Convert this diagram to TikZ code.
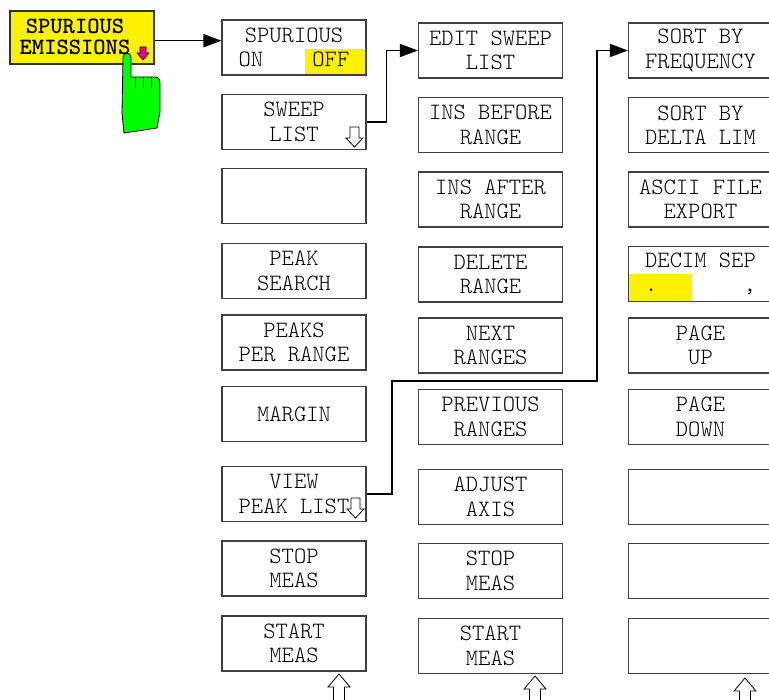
\documentclass[tikz,border=0pt]{standalone}
\usepackage{fontspec}
\usepackage{tikz}
\usetikzlibrary{arrows.meta}

\begin{document}
\begin{tikzpicture}[x=1bp,y=-1bp,
		key/.style={draw=black!75, line width=1.1bp, minimum width=144bp, minimum height=55bp, inner sep=0pt, align=center, font=\ttfamily\fontseries{l}\fontsize{23.5}{24.5}\selectfont},
		conn/.style={line width=1.6bp, black},
		>={Triangle[length=18bp,width=13bp]},
		hollow/.style={draw=black, fill=white, line width=0.8bp}]
			\useasboundingbox (0,0) rectangle (769,700);
			\clip (0,0) rectangle (769,700);
			\fill[yellow] (305,49) rectangle (366,76);
			\fill[yellow] (629,274) rectangle (692,302);
			\node[key, fill=yellow, draw=black!80, minimum height=53bp] (spur) at (82,37.5) {};
			\node[font=\ttfamily\bfseries\fontsize{23.5}{21.5}\selectfont, align=center, inner sep=0pt] (spurtext) at (75,36.75) {SPURIOUS\\EMISSIONS};
			\node[key] (onoff) at (294,47.5) {SPURIOUS\\ON\ \ \ \ OFF};
			\node[key] (sweep) at (294,122) {SWEEP\\LIST};
			\node[key] (blanka) at (294,196) {};
			\node[key] (peaksearch) at (294,271) {PEAK\\SEARCH};
			\node[key] (peaksper) at (294,342.5) {PEAKS\\PER RANGE};
			\node[key] (margin) at (294,414) {MARGIN};
			\node[key] (view) at (294,494) {VIEW\\PEAK LIST};
			\node[key] (stopa) at (294,568.5) {STOP\\MEAS};
			\node[key] (starta) at (294,643.5) {START\\MEAS};
			\node[key] (edit) at (490.5,50.5) {EDIT SWEEP\\LIST};
			\node[key] (insbefore) at (490.5,125) {INS BEFORE\\RANGE};
			\node[key] (insafter) at (490.5,199.5) {INS AFTER\\RANGE};
			\node[key] (delete) at (490.5,274.5) {DELETE\\RANGE};
			\node[key] (next) at (490.5,345.5) {NEXT\\RANGES};
			\node[key] (previous) at (490.5,417) {PREVIOUS\\RANGES};
			\node[key] (adjust) at (490.5,497) {ADJUST\\AXIS};
			\node[key] (stopb) at (490.5,571) {STOP\\MEAS};
			\node[key] (startb) at (490.5,646) {START\\MEAS};
			\node[key] (freq) at (700.5,50.5) {SORT BY\\FREQUENCY};
			\node[key] (delta) at (700.5,125) {SORT BY\\DELTA LIM};
			\node[key] (ascii) at (700.5,199.5) {ASCII FILE\\EXPORT};
			\node[key] (decim) at (700.5,274) {DECIM SEP\\.\ \ \ \ \ \ \ ,\vphantom{D}};
			\node[key] (pageup) at (700.5,345.5) {PAGE\\UP};
			\node[key] (pagedown) at (700.5,417) {PAGE\\DOWN};
			\node[key] (blankb) at (700.5,497) {};
			\node[key] (blankc) at (700.5,571) {};
			\node[key] (blankd) at (700.5,646) {};
			\coordinate (spurout) at ([yshift=-3.2bp]spur.east);
			\draw[conn,->] (spurout) -- (spurout -| onoff.west);
			\draw[conn,->] (sweep.east) -- ++(20,0) |- (edit.west);
			\draw[conn,->] (view.east) -| (392,381) -| ([xshift=-31bp]freq.west) -- (freq.west);
			\draw[hollow] (350,127) -- (359,127) -- (359,138) -- (363,138) -- (354.5,147) -- (346,138) -- (350,138) -- cycle;
			\draw[hollow] (351,498) -- (360,498) -- (360,509) -- (364,509) -- (355.5,518) -- (347,509) -- (351,509) -- cycle;
			\draw[hollow] (339,674) -- (350,687) -- (344.5,687) -- (344.5,702) -- (333.5,702) -- (333.5,687) -- (328,687) -- cycle;
			\draw[hollow] (535,676) -- (546,689) -- (540.5,689) -- (540.5,702) -- (529.5,702) -- (529.5,689) -- (524,689) -- cycle;
			\draw[hollow] (745,678) -- (756,691) -- (750.5,691) -- (750.5,702) -- (739.5,702) -- (739.5,691) -- (734,691) -- cycle;
			\draw[fill=magenta, line width=0.6bp] (140,47) -- (146,47) -- (146,53) -- (149,53) -- (143,60) -- (137,53) -- (140,53) -- cycle;
			\draw[fill=green, line width=0.8bp] (124,133) -- (122,113) -- (123,57) .. controls (123,52) and (131,52) .. (131,57) -- (131,77) -- (155,77) .. controls (159,77) and (160,80) .. (160,84) -- (160,112) -- (157,128) -- cycle;
			\draw[line width=0.8bp] (135,77) -- (135,88) (143,77) -- (143,88) (151,77) -- (151,88);
	\end{tikzpicture}
\end{document}
